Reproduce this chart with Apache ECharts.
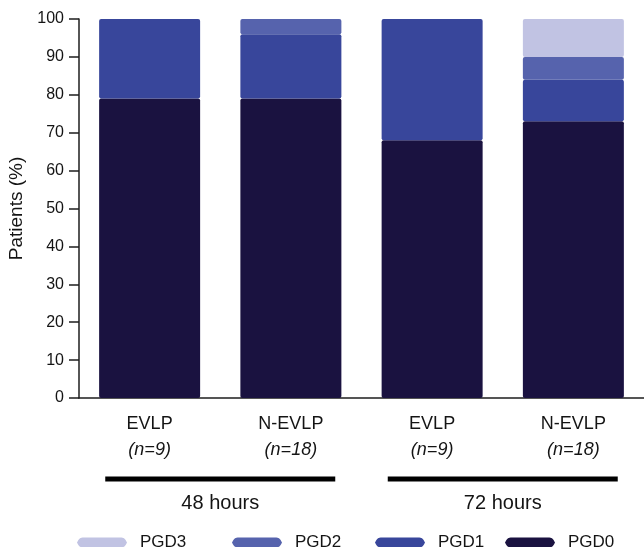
<!DOCTYPE html>
<html>
<head>
<meta charset="utf-8">
<script src="https://cdn.jsdelivr.net/npm/echarts@6/dist/echarts.min.js"></script>
<style>
html,body{margin:0;padding:0;background:#fff;}
#chart{width:644px;height:547px;}
</style>
</head>
<body>
<div id="chart"></div>
<script>
const categories = ["EVLP", "N-EVLP", "EVLP", "N-EVLP"];
const sampleSizes = ["(n=9)", "(n=18)", "(n=9)", "(n=18)"];
const groups = ["48 hours", "72 hours"];
const pgd0 = [79, 79, 68, 73];
const pgd1 = [21, 17, 32, 11];
const pgd2 = [0, 4, 0, 6];
const pgd3 = [0, 0, 0, 10];
const yTicks = [0, 10, 20, 30, 40, 50, 60, 70, 80, 90, 100];

const colors = { PGD0: "#1a1240", PGD1: "#38469b", PGD2: "#5663ad", PGD3: "#c1c3e3" };
const font = "'Liberation Sans', Arial, sans-serif";
const textColor = "#141414";

const chart = echarts.init(document.getElementById("chart"));

function mk(name, data) {
  return {
    name: name, type: "bar", stack: "s", data: data, barWidth: 101,
    itemStyle: { color: colors[name], borderRadius: 2 },
    emphasis: { disabled: true }, animation: false
  };
}
const iconPath = "path://M0,5 C2,1 3,0 7,0 L43,0 C47,0 48,1 50,5 C48,9 47,10 43,10 L7,10 C3,10 2,9 0,5 Z";
function legend(name, left) {
  return {
    data: [name], left: left, top: 529, itemWidth: 50, itemHeight: 10,
    icon: iconPath, selectedMode: false,
    textStyle: { fontFamily: font, fontSize: 17, color: textColor, padding: [0, 0, 0, 8] }
  };
}

chart.setOption({
  animation: false,
  grid: { left: 79, top: 19, bottom: 149, right: 0, containLabel: false, outerBoundsMode: "none" },
  legend: [legend("PGD3", 72), legend("PGD2", 227), legend("PGD1", 370), legend("PGD0", 500)],
  xAxis: {
    type: "category",
    data: categories.map((c, i) => c + "\n{i|" + sampleSizes[i] + "}"),
    axisLine: { lineStyle: { color: "#1e1e1e", width: 1.5 } },
    axisTick: { alignWithLabel: true, length: 9, lineStyle: { color: "#1e1e1e", width: 1.5 } },
    axisLabel: {
      margin: 13, fontFamily: font, fontSize: 18, color: textColor, lineHeight: 26,
      rich: { i: { fontStyle: "italic", fontFamily: font, fontSize: 18, color: textColor, lineHeight: 26 } }
    }
  },
  yAxis: {
    type: "value", min: yTicks[0], max: yTicks[yTicks.length - 1], interval: 10,
    name: "Patients (%)", nameLocation: "middle", nameGap: 52, nameRotate: 90,
    nameTextStyle: { fontFamily: font, fontSize: 19, color: textColor },
    splitLine: { show: false },
    axisLine: { show: true, lineStyle: { color: "#1e1e1e", width: 1.5 } },
    axisTick: { show: true, length: 10, lineStyle: { color: "#1e1e1e", width: 1.5 } },
    axisLabel: { margin: 15, fontFamily: font, fontSize: 16, color: textColor }
  },
  series: [mk("PGD0", pgd0), mk("PGD1", pgd1), mk("PGD2", pgd2), mk("PGD3", pgd3)]
});

// group brackets under the category pairs, positioned from the axis scale
const graphics = [];
groups.forEach((g, k) => {
  const a = chart.convertToPixel({ xAxisIndex: 0 }, 2 * k);
  const b = chart.convertToPixel({ xAxisIndex: 0 }, 2 * k + 1);
  const mid = (a + b) / 2;
  const half = 115;
  graphics.push({
    type: "rect", shape: { x: mid - half, y: 476.5, width: 2 * half, height: 5 },
    style: { fill: "#000" }, silent: true
  });
  graphics.push({
    type: "text", x: mid, y: 503,
    style: { text: g, fontFamily: font, fontSize: 20, fill: textColor, align: "center", verticalAlign: "middle" },
    silent: true
  });
});
chart.setOption({ graphic: graphics });
</script>
</body>
</html>
